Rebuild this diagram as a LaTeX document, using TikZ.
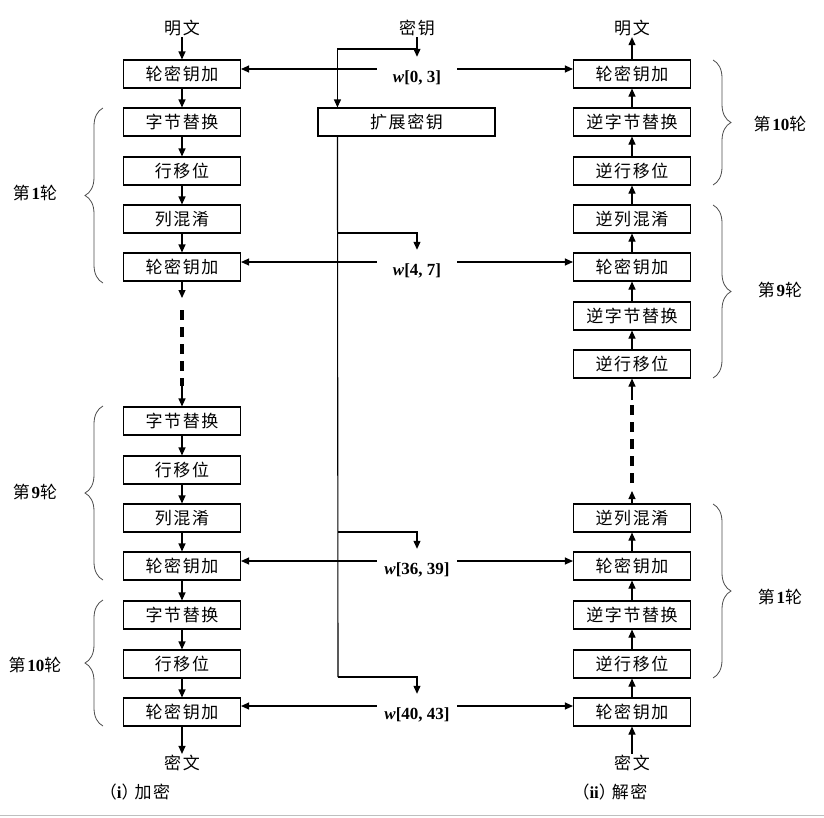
\documentclass[tikz,border=0pt]{standalone}
\usepackage{fontspec}
\setmainfont{Liberation Serif}
\newfontfamily\cjk[LetterSpace=9]{Noto Sans CJK SC}
\usetikzlibrary{arrows.meta,decorations.pathreplacing}
\begin{document}
\begin{tikzpicture}[x=1pt,y=-1pt,
  box/.style={draw, line width=1.1pt, minimum width=117pt, minimum height=28pt, inner sep=0pt, font=\cjk\fontsize{17}{20}\selectfont},
  arr/.style={line width=1.1pt, -{Triangle[length=8pt,width=7pt]}},
  lbl/.style={font=\cjk\fontsize{17}{20}\selectfont, inner sep=1pt},
  rl/.style={font=\fontsize{17}{20}\selectfont, inner sep=1pt},
  wl/.style={font=\fontsize{17}{20}\selectfont, inner sep=0pt},
  brc/.style={decorate, decoration={brace, amplitude=18pt}, draw=black!70, line width=0.8pt},
  gap/.style={minimum width=80pt, minimum height=24pt, inner sep=0pt},
  dsh/.style={line width=3.2pt, dash pattern=on 10pt off 7pt}]
\useasboundingbox (0,0) rectangle (824,817);

% left column (encryption)
\node[box] (L1) at (182,74) {轮密钥加};
\node[box] (L2) at (182,122) {字节替换};
\node[box] (L3) at (182,171) {行移位};
\node[box] (L4) at (182,219) {列混淆};
\node[box] (L5) at (182,267) {轮密钥加};
\node[box] (L6) at (182,421) {字节替换};
\node[box] (L7) at (182,470) {行移位};
\node[box] (L8) at (182,518) {列混淆};
\node[box] (L9) at (182,566) {轮密钥加};
\node[box] (L10) at (182,615) {字节替换};
\node[box] (L11) at (182,664) {行移位};
\node[box] (L12) at (182,712) {轮密钥加};

% right column (decryption)
\node[box] (R1) at (632,74) {轮密钥加};
\node[box] (R2) at (632,122) {逆字节替换};
\node[box] (R3) at (632,171) {逆行移位};
\node[box] (R4) at (632,219) {逆列混淆};
\node[box] (R5) at (632,267) {轮密钥加};
\node[box] (R6) at (632,316) {逆字节替换};
\node[box] (R7) at (632,364) {逆行移位};
\node[box] (R8) at (632,518) {逆列混淆};
\node[box] (R9) at (632,566) {轮密钥加};
\node[box] (R10) at (632,615) {逆字节替换};
\node[box] (R11) at (632,664) {逆行移位};
\node[box] (R12) at (632,712) {轮密钥加};

% key expansion
\node[box, minimum width=177pt] (E) at (406.5,122) {扩展密钥};

% texts
\node[lbl] (pL) at (182,28) {明文};
\node[lbl] (pR) at (632,28) {明文};
\node[lbl] (key) at (417,28) {密钥};
\node[lbl] (cL) at (182,763) {密文};
\node[lbl] (cR) at (632,763) {密文};
\node[lbl] (capL) at (135,792) {（{\rmfamily\bfseries i}）\kern-4pt 加密};
\node[lbl] (capR) at (610,792) {（{\rmfamily\bfseries ii}）\kern-4pt 解密};

% vertical arrows left
\draw[arr] (pL) -- (L1);
\foreach \a/\b in {L1/L2,L2/L3,L3/L4,L4/L5,L6/L7,L7/L8,L8/L9,L9/L10,L10/L11,L11/L12}
  \draw[arr] (\a) -- (\b);
\draw[arr] (L12) -- (cL);
\coordinate (al) at (182,298);
\coordinate (dl1) at (182,310);
\coordinate (dl2) at (182,386);
\draw[arr] (L5) -- (al);
\draw[dsh] (dl1) -- (dl2);
\draw[arr] (dl2) -- (L6);

% vertical arrows right
\draw[arr] (R1) -- (pR);
\foreach \a/\b in {R2/R1,R3/R2,R4/R3,R5/R4,R6/R5,R7/R6,R9/R8,R10/R9,R11/R10,R12/R11}
  \draw[arr] (\a) -- (\b);
\draw[arr] (cR) -- (R12);
\coordinate (ar) at (632,491);
\coordinate (dr1) at (632,483);
\coordinate (dr2) at (632,400);
\draw[arr] (R8) -- (ar);
\draw[dsh] (dr1) -- (dr2);
\draw[arr] (dr2) -- (R7);

% round-key gaps and labels
\node[gap] (g1) at (417,69) {};
\node[gap] (g2) at (417,262) {};
\node[gap] (g3) at (417,561) {};
\node[gap] (g4) at (417,706) {};
\node[wl] (w1) at (417,77.5) {\textbf{\textit{w}[0, 3]}};
\node[wl] (w2) at (417,270.5) {\textbf{\textit{w}[4, 7]}};
\node[wl] (w3) at (417,569.5) {\textbf{\textit{w}[36, 39]}};
\node[wl] (w4) at (417,714.5) {\textbf{\textit{w}[40, 43]}};

\draw[arr] (g1.west) -- (L1.east |- g1.west);
\draw[arr] (g1.east) -- (R1.west |- g1.east);
\draw[arr] (g2.west) -- (L5.east |- g2.west);
\draw[arr] (g2.east) -- (R5.west |- g2.east);
\draw[arr] (g3.west) -- (L9.east |- g3.west);
\draw[arr] (g3.east) -- (R9.west |- g3.east);
\draw[arr] (g4.west) -- (L12.east |- g4.west);
\draw[arr] (g4.east) -- (R12.west |- g4.east);

% key wiring
\coordinate (kb) at (417,49);
\draw[arr] (key) -- (g1.north);
\draw[arr] (kb) -| ([xshift=20pt]E.north west);
\coordinate (b1) at (338,233);
\coordinate (b2) at (338,532);
\coordinate (b3) at (338,677);
\draw[line width=1.1pt] ([xshift=20pt]E.south west) -- (b3);
\draw[arr] (b1) -| (g2.north);
\draw[arr] (b2) -| (g3.north);
\draw[arr] (b3) -| (g4.north);

% braces left
\draw[brc] (103,283) -- (103,108);
\draw[brc] (103,580) -- (103,406);
\draw[brc] (103,726) -- (103,600);
\node[rl] (r1) at (35,193) {{\cjk 第}\textbf{1}{\cjk 轮}};
\node[rl] (r9) at (35,492) {{\cjk 第}\textbf{9}{\cjk 轮}};
\node[rl] (r10) at (35,665) {{\cjk 第}\textbf{10}{\cjk 轮}};

% braces right
\draw[brc] (713,60) -- (713,185);
\draw[brc] (713,205) -- (713,378);
\draw[brc] (713,504) -- (713,678);
\node[rl] (s10) at (780,124) {{\cjk 第}\textbf{10}{\cjk 轮}};
\node[rl] (s9) at (780,290) {{\cjk 第}\textbf{9}{\cjk 轮}};
\node[rl] (s1) at (780,597) {{\cjk 第}\textbf{1}{\cjk 轮}};

\draw[black!25, line width=1.5pt] (0,815.5) -- (824,815.5);
\end{tikzpicture}
\end{document}
